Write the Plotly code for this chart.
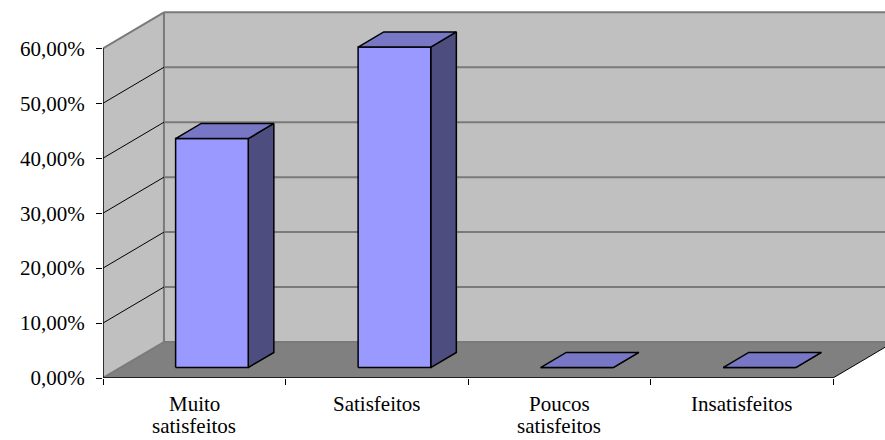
import plotly.graph_objects as go

# ---- data ----
categories = ["Muito<br>satisfeitos", "Satisfeitos", "Poucos<br>satisfeitos", "Insatisfeitos"]
values = [41.67, 58.33, 0.0, 0.0]
y_tick_values = [0, 10, 20, 30, 40, 50, 60]
y_tick_labels = ["0,00%", "10,00%", "20,00%", "30,00%", "40,00%", "50,00%", "60,00%"]

# ---- 3D oblique projection parameters (in axis units) ----
DU, DP = 0.334, 6.55      # depth offset: category units, percent units
BAR_W = 0.398
D0, D1 = 0.29, 0.71       # bar depth start / end (fraction of depth)
YMAX = 60
n = len(categories)

FRONT = "#9999FF"
TOP = "#7777C6"
SIDE = "#4D4D80"
WALL = "#C0C0C0"
FLOOR = "#808080"
EDGE = "#7A7A7A"
FONT = "Liberation Serif, Times New Roman, serif"

fig = go.Figure()


def poly(xs, ys, fill, line_color=None, lw=0):
    fig.add_trace(go.Scatter(
        x=list(xs) + [xs[0]], y=list(ys) + [ys[0]],
        fill="toself", fillcolor=fill,
        mode="lines" if lw > 0 else "none",
        line=dict(color=line_color or fill, width=lw),
        hoverinfo="skip", showlegend=False))


def seg(xs, ys, color, width):
    fig.add_trace(go.Scatter(
        x=xs, y=ys, mode="lines", line=dict(color=color, width=width),
        hoverinfo="skip", showlegend=False))


# back wall
poly([DU, n + DU + 1, n + DU + 1, DU], [DP, DP, YMAX + DP, YMAX + DP], WALL)
# left wall
poly([0, 0, DU, DU], [0, YMAX, YMAX + DP, DP], WALL)
# floor
poly([0, n, n + DU, DU], [0, 0, DP, DP], FLOOR)

# back wall gridlines
for t in y_tick_values:
    seg([DU, n + DU + 1], [t + DP, t + DP], EDGE, 2)
# back wall left edge
seg([DU, DU], [DP, YMAX + DP], EDGE, 2)
# left wall gridlines
for t in y_tick_values[1:-1]:
    seg([0, DU], [t, t + DP], "#000000", 1)
seg([0, DU], [YMAX, YMAX + DP], EDGE, 2)
seg([0, DU], [0, DP], EDGE, 2)
# floor right edge & front edge
seg([n, n + DU], [0, DP], "#000000", 1)
seg([0, n], [0, 0], "#000000", 1.5)
# value axis line
seg([0, 0], [0, YMAX], "#000000", 1.5)

# bars
for i, v in enumerate(values):
    xl = i + 0.5 - BAR_W / 2
    xr = i + 0.5 + BAR_W / 2
    fx0, fy0 = D0 * DU, D0 * DP
    bx0, by0 = D1 * DU, D1 * DP
    # side face
    poly([xr + fx0, xr + bx0, xr + bx0, xr + fx0],
         [fy0, by0, v + by0, v + fy0], SIDE, "#000000", 1.5)
    # front face
    poly([xl + fx0, xr + fx0, xr + fx0, xl + fx0],
         [fy0, fy0, v + fy0, v + fy0], FRONT, "#000000", 1.5)
    # top face
    poly([xl + fx0, xr + fx0, xr + bx0, xl + bx0],
         [v + fy0, v + fy0, v + by0, v + by0], TOP, "#000000", 1.5)

# category labels (one annotation per text line for tight line spacing)
annotations = []
for i, cat in enumerate(categories):
    for j, line in enumerate(cat.split("<br>")):
        annotations.append(dict(
            x=i + 0.5, y=0, xref="x", yref="paper",
            text=line, showarrow=False, xanchor="center", yanchor="top",
            yshift=-12 - 22 * j,
            font=dict(family=FONT, size=21, color="black")))

W, H = 885, 440
ML, MB = 103, 62
PX_PER_CAT = 182.5
PX_PER_PCT = 5.495

fig.update_layout(
    width=W, height=H,
    margin=dict(l=ML, r=0, t=0, b=MB, pad=0),
    paper_bgcolor="white", plot_bgcolor="white",
    showlegend=False,
    font=dict(family=FONT, color="black"),
    annotations=annotations,
    xaxis=dict(
        range=[0, (W - ML) / PX_PER_CAT],
        tickmode="array", tickvals=list(range(n + 1)),
        ticktext=[""] * (n + 1),
        ticks="outside", ticklen=6, tickwidth=1, tickcolor="black",
        showgrid=False, zeroline=False, showline=False,
        fixedrange=True,
    ),
    yaxis=dict(
        range=[0, (H - MB) / PX_PER_PCT],
        tickmode="array", tickvals=y_tick_values, ticktext=y_tick_labels,
        ticks="outside", ticklen=6, tickwidth=1, tickcolor="black",
        showgrid=False, zeroline=False, showline=False,
        tickfont=dict(size=21),
        ticklabelstandoff=7,
        fixedrange=True,
    ),
)

fig.write_html("out.html")
